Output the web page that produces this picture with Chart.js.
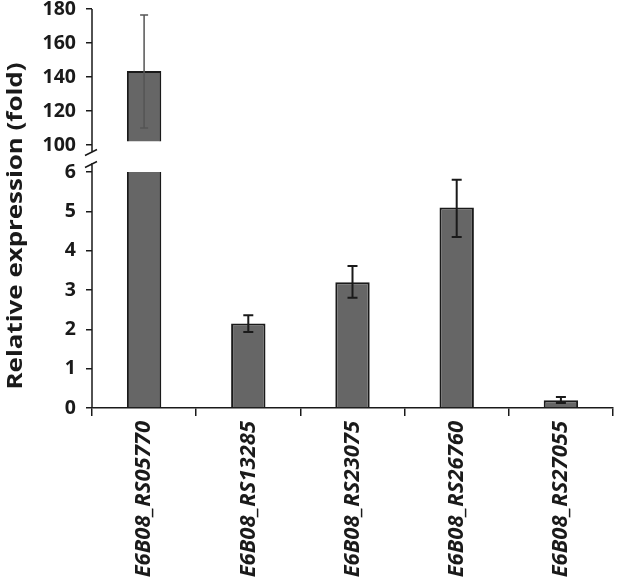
<!DOCTYPE html>
<html><head><meta charset="utf-8">
<script src="https://cdn.jsdelivr.net/npm/chart.js@4/dist/chart.umd.min.js"></script>
<style>html,body{margin:0;padding:0;background:#fff}#wrap{width:624px;height:580px}</style>
</head><body><div id="wrap"><canvas id="c" width="624" height="580"></canvas></div>
<script>
const categories = ['E6B08_RS05770','E6B08_RS13285','E6B08_RS23075','E6B08_RS26760','E6B08_RS27055'];
const values  = [143.5, 2.15, 3.2, 5.1, 0.2];
const errLow  = [110, 1.93, 2.8, 4.35, 0.13];
const errHigh = [176.5, 2.36, 3.61, 5.8, 0.28];
const lowerTicks = [0, 1, 2, 3, 4, 5, 6];
const upperTicks = [100, 120, 140, 160, 180];
const lowerMax = 6;      // top of lower segment
const upperBase = 102;   // where the upper bar segment begins
const yTitle = 'Relative expression (fold)';

const FONT = 'Open Sans';
const INK = '#1a1a1a';
const BAR = '#666666';

const tickFont = {family: FONT, size: 19.5, weight: 'bold', lineHeight: 1};

const lowerData = values.map(v => Math.min(v, lowerMax));
const upperData = values.map(v => v > upperBase ? [upperBase, v] : null);

const breakPlugin = {
  id: 'breakAxis',
  afterDraw(chart) {
    const ctx = chart.ctx;
    const yT = chart.scales.yTop, yB = chart.scales.yBot;
    const x = chart.chartArea.left;
    ctx.save();
    ctx.strokeStyle = INK; ctx.lineWidth = 1.5;
    ctx.beginPath();
    ctx.moveTo(x, yT.top); ctx.lineTo(x, yT.bottom - 6);
    ctx.moveTo(x, yB.top + 5); ctx.lineTo(x, yB.bottom);
    const s1 = yT.bottom - 5.5, s2 = yB.top + 6.5;
    ctx.moveTo(x - 7, s1 + 3); ctx.lineTo(x + 5, s1 - 3);
    ctx.moveTo(x - 7, s2 + 3); ctx.lineTo(x + 5, s2 - 3);
    ctx.stroke();
    // y title
    ctx.translate(16, 226);
    ctx.rotate(-Math.PI / 2);
    ctx.fillStyle = INK;
    ctx.font = 'bold 22px "' + FONT + '"';
    const w = ctx.measureText(yTitle).width;
    ctx.scale(327 / w, 1);
    ctx.textAlign = 'center'; ctx.textBaseline = 'middle';
    ctx.fillText(yTitle, 0, 0);
    ctx.restore();
  }
};

const errPlugin = {
  id: 'errBars',
  afterDatasetsDraw(chart) {
    const ctx = chart.ctx;
    const meta = chart.getDatasetMeta(0);
    ctx.save();
    values.forEach((v, i) => {
      const isUpper = v > upperBase;
      const sc = isUpper ? chart.scales.yTop : chart.scales.yBot;
      const x = meta.data[i].x;
      const yl = sc.getPixelForValue(errLow[i]);
      const yh = sc.getPixelForValue(errHigh[i]);
      ctx.strokeStyle = isUpper ? '#555555' : INK;
      ctx.lineWidth = isUpper ? 1.5 : 2;
      const cw = isUpper ? 4 : 5;
      ctx.beginPath();
      ctx.moveTo(x, yl); ctx.lineTo(x, yh);
      ctx.moveTo(x - cw, yl); ctx.lineTo(x + cw, yl);
      ctx.moveTo(x - cw, yh); ctx.lineTo(x + cw, yh);
      ctx.stroke();
    });
    ctx.restore();
  }
};

new Chart(document.getElementById('c'), {
  type: 'bar',
  data: {
    labels: categories,
    datasets: [
      {
        data: lowerData, yAxisID: 'yBot', grouped: false,
        backgroundColor: BAR, borderColor: INK,
        borderWidth: c => values[c.dataIndex] > lowerMax ? {left: 2, right: 2, top: 0, bottom: 0} : 2,
        borderSkipped: 'start',
        categoryPercentage: 1, barPercentage: 0.33
      },
      {
        data: upperData, yAxisID: 'yTop', grouped: false,
        backgroundColor: BAR, borderColor: INK, borderWidth: 2,
        borderSkipped: 'start',
        categoryPercentage: 1, barPercentage: 0.33
      }
    ]
  },
  options: {
    responsive: false, animation: false, devicePixelRatio: 1,
    layout: {padding: {left: 0, right: 11, top: 9, bottom: 0}},
    plugins: {legend: {display: false}, tooltip: {enabled: false}, title: {display: false}},
    scales: {
      x: {
        offset: true,
        grid: {offset: true, drawOnChartArea: false, drawTicks: true, tickLength: 8, color: INK, lineWidth: 1.5},
        border: {display: true, color: INK, width: 1.5},
        ticks: {minRotation: 90, maxRotation: 90, autoSkip: false, padding: 5, color: INK,
                font: {family: FONT, size: 22, weight: 'bold', style: 'italic'}},
        afterFit(s) { s.height = 172; s.paddingLeft = 0; s.paddingRight = 0; }
      },
      yBot: {
        type: 'linear', position: 'left', stack: 'y', stackWeight: 250, weight: 0,
        min: 0, max: 6.356,
        afterBuildTicks(s) { s.ticks = lowerTicks.map(v => ({value: v})); },
        grid: {drawOnChartArea: false, drawTicks: true, tickLength: 6, color: INK, lineWidth: 1.5},
        border: {display: false},
        ticks: {padding: 10, color: INK, font: tickFont},
        afterFit(s) { s.width = 92; s.paddingTop = 0; s.paddingBottom = 0; }
      },
      yTop: {
        type: 'linear', position: 'left', stack: 'y', stackWeight: 149, weight: 1,
        min: 92.35, max: 180,
        afterBuildTicks(s) { s.ticks = upperTicks.map(v => ({value: v})); },
        grid: {drawOnChartArea: false, drawTicks: true, tickLength: 6, color: INK, lineWidth: 1.5},
        border: {display: false},
        ticks: {padding: 10, color: INK, font: tickFont},
        afterFit(s) { s.width = 92; s.paddingTop = 0; s.paddingBottom = 0; }
      }
    }
  },
  plugins: [breakPlugin, errPlugin]
});
</script></body></html>
